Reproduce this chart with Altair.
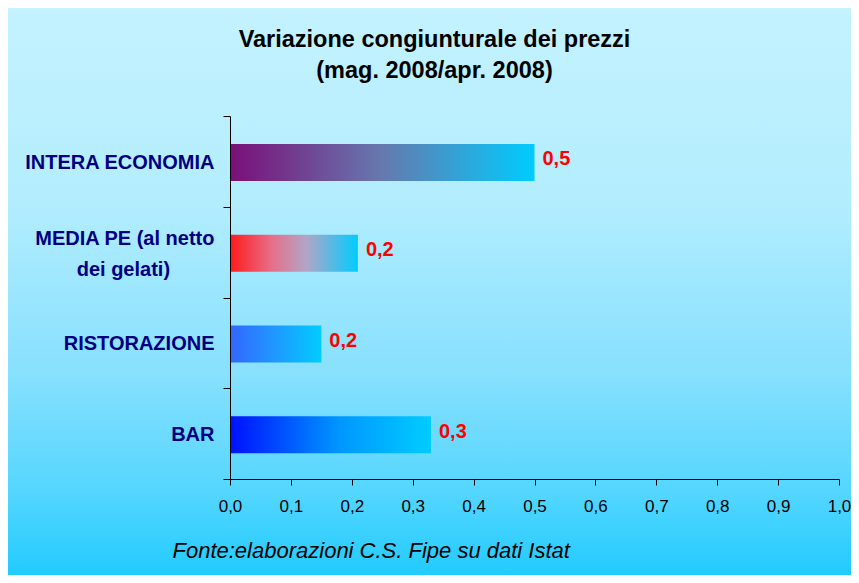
import altair as alt
import pandas as pd

# ---- data ----
categories = ["INTERA ECONOMIA", "MEDIA PE (al netto dei gelati)", "RISTORAZIONE", "BAR"]
values = [0.50, 0.21, 0.15, 0.33]
value_labels = ["0,5", "0,2", "0,2", "0,3"]
x_ticks = [0.0, 0.1, 0.2, 0.3, 0.4, 0.5, 0.6, 0.7, 0.8, 0.9, 1.0]

title_lines = ["Variazione congiunturale dei prezzi", "(mag. 2008/apr. 2008)"]
source_note = "Fonte:elaborazioni C.S. Fipe su dati Istat"

# ---- styles ----
FONT = "Liberation Sans, Arial, Helvetica, sans-serif"
bar_stops = {
    "INTERA ECONOMIA": [("#7A0F78", 0.0), ("#6679AE", 0.5), ("#00CCFF", 1.0)],
    "MEDIA PE (al netto dei gelati)": [("#FF1A1A", 0.0), ("#E6708A", 0.33), ("#B0A6C6", 0.6), ("#00CCFF", 1.0)],
    "RISTORAZIONE": [("#3366FF", 0.0), ("#1F99FF", 0.5), ("#00CCFF", 1.0)],
    "BAR": [("#0010FF", 0.0), ("#0098FF", 0.55), ("#00CCFF", 1.0)],
}

W, H = 609, 363
PAD = {"left": 222, "top": 108, "right": 12, "bottom": 96}

df = pd.DataFrame({"categoria": categories, "valore": values, "etichetta": value_labels})

def hgrad(stops):
    return alt.Gradient(
        gradient="linear",
        stops=[alt.GradientStop(color=c, offset=o) for c, o in stops],
        x1=0, x2=1, y1=0, y2=0,
    )

bg_grad = alt.Gradient(
    gradient="linear",
    stops=[
        alt.GradientStop(color="#C4F2FF", offset=0.0),
        alt.GradientStop(color="#B2EDFE", offset=0.35),
        alt.GradientStop(color="#86E0FE", offset=0.65),
        alt.GradientStop(color="#55D6FE", offset=0.85),
        alt.GradientStop(color="#22CBFE", offset=1.0),
    ],
    x1=0, x2=0, y1=0, y2=1,
)

background = alt.Chart(pd.DataFrame({"bg": [0]})).mark_rect(color=bg_grad).encode(
    x=alt.value(-PAD["left"]),
    x2=alt.value(W + PAD["right"]),
    y=alt.value(-PAD["top"]),
    y2=alt.value(H + PAD["bottom"]),
)

MULTI = "MEDIA PE (al netto dei gelati)"
label_expr = (
    f"datum.value == '{MULTI}' ? "
    "['MEDIA PE (al netto', 'dei gelati)" + "\u00a0" * 8 + "\u200b'] : datum.value"
)

x_enc = alt.X(
    "valore:Q",
    scale=alt.Scale(domain=[0, 1], nice=False, zero=True),
    axis=alt.Axis(
        values=x_ticks, zindex=1, labelFlush=False, labelOverlap=False,
        labelExpr="replace(format(datum.value, '.1f'), '.', ',')",
        labelFont=FONT, labelFontSize=17, labelColor="black", labelPadding=13,
        tickSize=6, tickColor="black", domainColor="black", grid=False,
        title=source_note, titleFont=FONT, titleFontSize=22, titleFontStyle="italic",
        titleFontWeight="normal", titleColor="black", titleAlign="left",
        titleBaseline="middle", titleX=-58, titleY=71, titleAngle=0,
    ),
)
y_enc = alt.Y(
    "categoria:N",
    sort=categories,
    scale=alt.Scale(paddingInner=0, paddingOuter=0),
    axis=alt.Axis(
        title=None, labelExpr=label_expr, zindex=1,
        labelFont=FONT, labelFontSize=20, labelFontWeight="bold", labelColor="#000080",
        labelPadding=9, labelLineHeight=31, labelLimit=300,
        labelOffset={"condition": {"test": f"datum.value == '{MULTI}'", "value": -14}, "value": 1},
        tickSize=7, tickColor="black", tickBand="extent", domainColor="black", grid=False,
    ),
)

base = alt.Chart(df).encode(x=x_enc, y=y_enc)

bar_layers = [
    base.transform_filter(alt.datum.categoria == cat)
    .mark_bar(size=37, color=hgrad(bar_stops[cat]), yOffset=1)
    for cat in categories
]

text_layer = base.mark_text(
    align="left", baseline="middle", dx=8, yOffset=-2,
    font=FONT, fontSize=20, fontWeight="bold", color="#FF0000",
).encode(text="etichetta:N")

chart = alt.layer(background, *bar_layers, text_layer).properties(
    width=W,
    height=H,
    padding=PAD,
    autosize=alt.AutoSizeParams(type="none"),
    title=alt.Title(
        title_lines, font=FONT, fontSize=23.5, fontWeight="bold", color="black",
        anchor="middle", dx=-100, dy=74, offset=0, lineHeight=31,
    ),
    background="white",
).configure_view(stroke=None)

chart.save("out.html", embed_options={"renderer": "svg", "actions": False})
